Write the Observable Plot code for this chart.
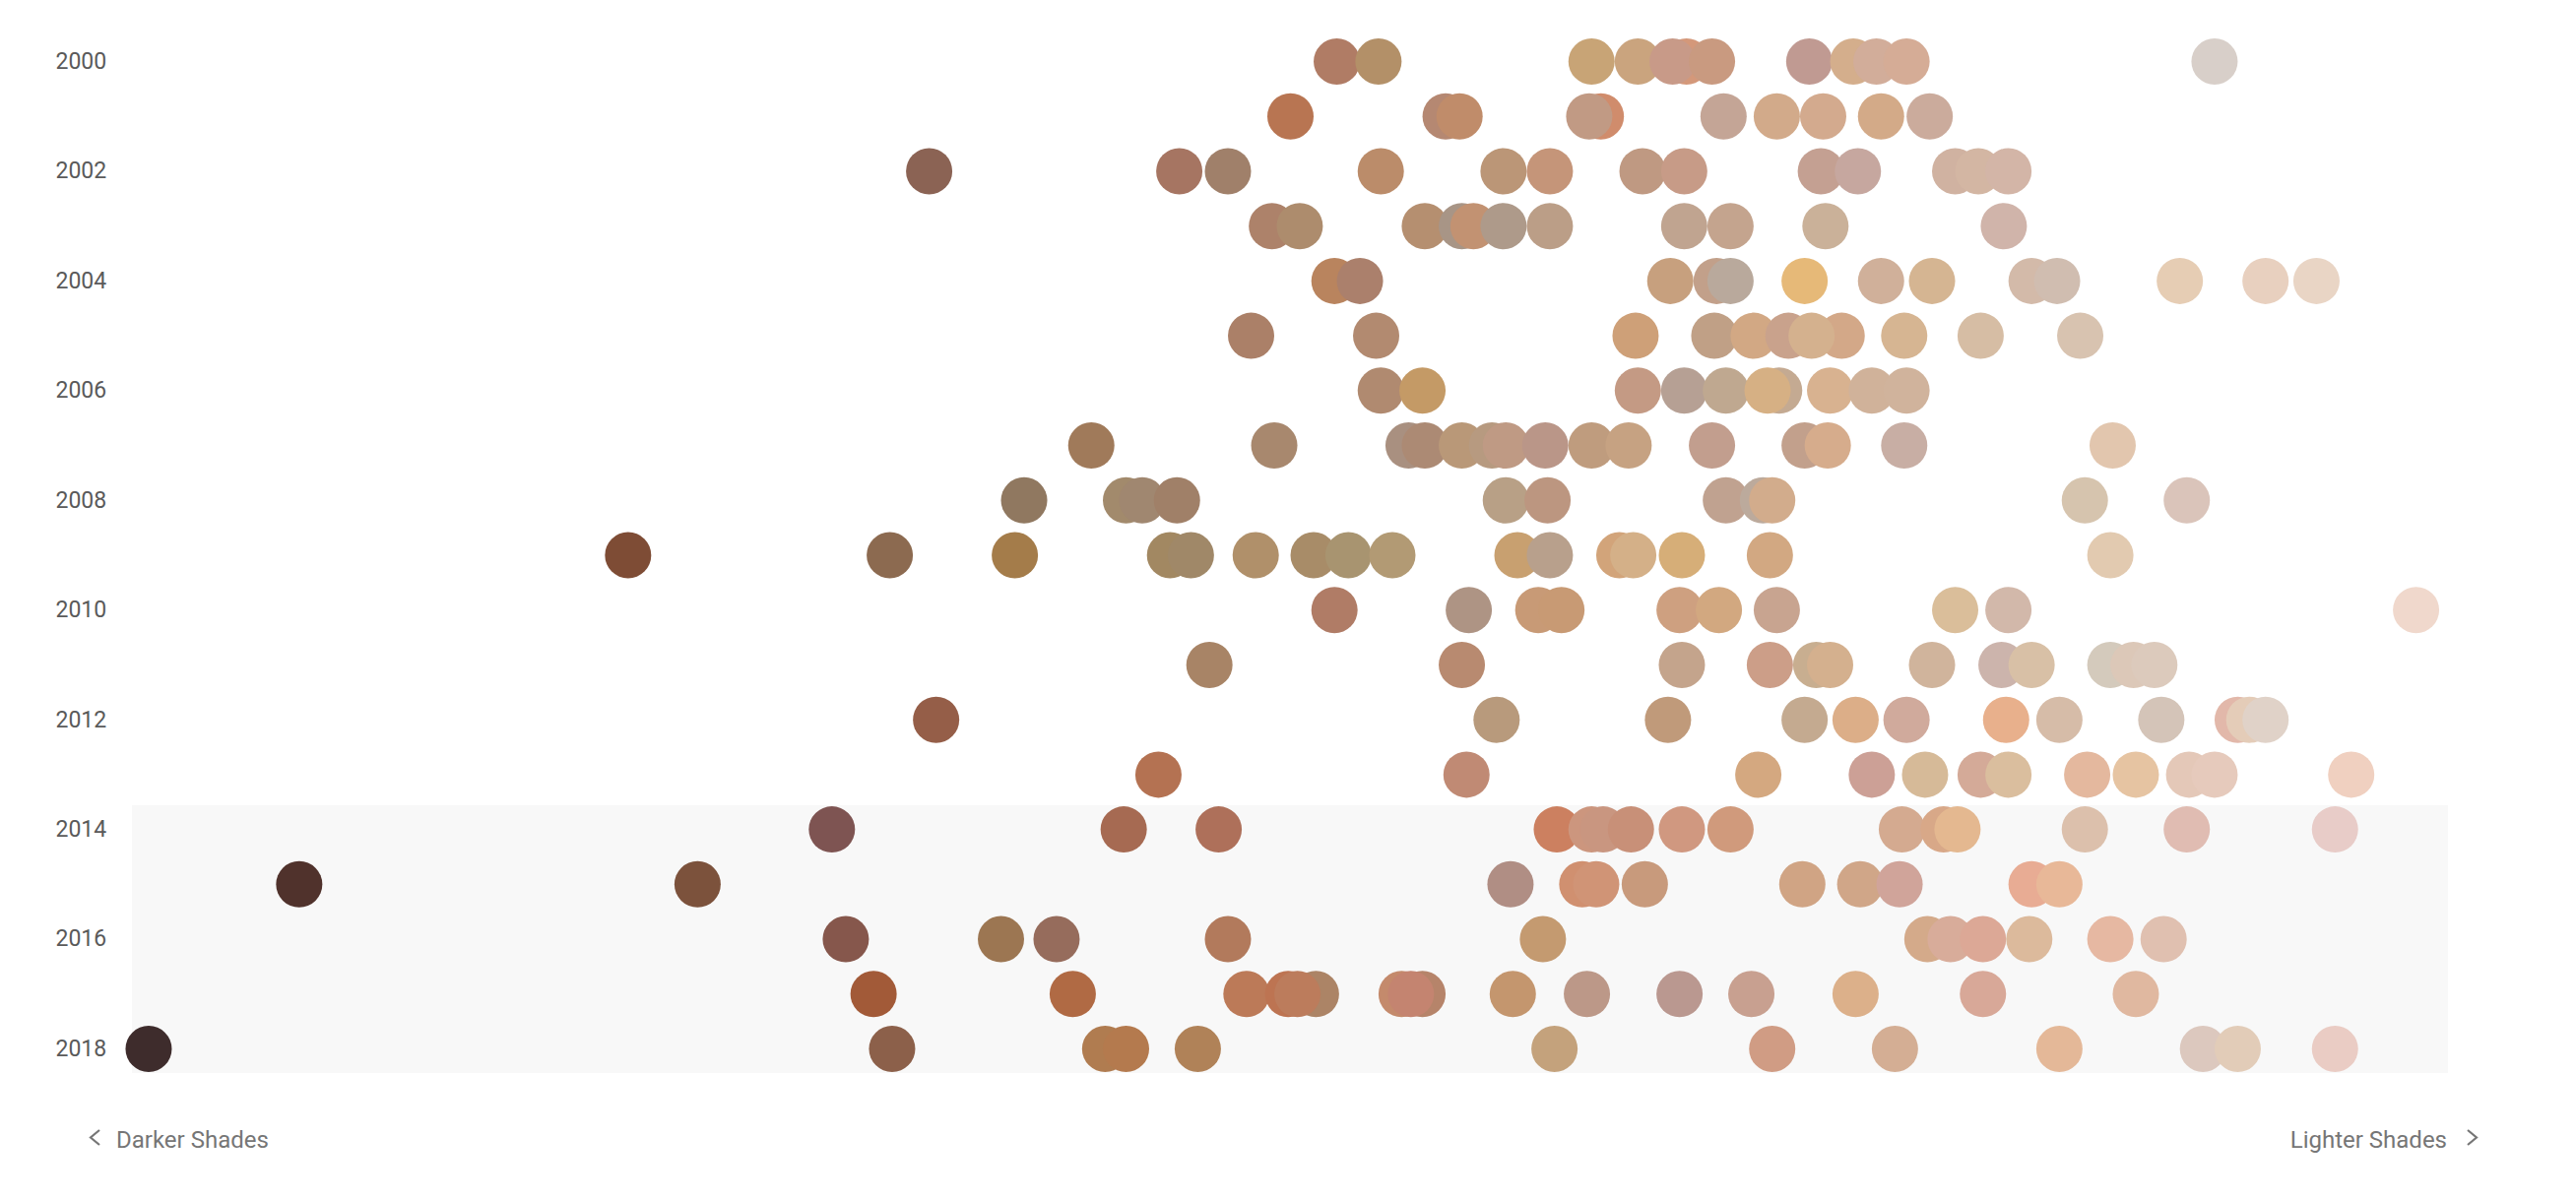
<!DOCTYPE html>
<html>
<head>
<meta charset="utf-8">
<script src="https://cdn.jsdelivr.net/npm/d3@7"></script>
<script src="https://cdn.jsdelivr.net/npm/@observablehq/plot@0.6"></script>
<style>
  html, body { margin: 0; padding: 0; background: #fff; }
  #wrap { position: relative; width: 2616px; height: 1218px; }
  #wrap svg { display: block; }
  #labels { position: absolute; left: 0; top: 0; }
</style>
</head>
<body>
<div id="wrap"></div>
<script>
// ---- data ----
const years = [2000,2001,2002,2003,2004,2005,2006,2007,2008,2009,2010,2011,2012,2013,2014,2015,2016,2017,2018];
const yearTicks = [2000,2002,2004,2006,2008,2010,2012,2014,2016,2018];
const highlightYears = [2014, 2018];
const edgeLabels = ["Darker Shades", "Lighter Shades"];

// shade position (0 = darkest, 100 = lightest), one list per year
const shades = [
  [52.0,53.8,63.0,65.0,67.1,66.5,68.2,72.4,74.3,75.3,76.6,89.9],
  [50.0,56.7,57.3,63.4,62.9,68.7,71.0,73.0,75.5,77.6],
  [34.4,45.2,47.3,53.9,59.2,61.2,65.2,67.0,72.9,74.5,78.7,79.7,81.0],
  [49.2,50.4,55.8,57.4,57.9,59.2,61.2,67.0,69.0,73.1,80.8],
  [51.9,53.0,66.4,68.4,69.0,72.2,75.5,77.7,82.0,83.1,88.4,92.1,94.3],
  [48.3,53.7,64.9,68.3,70.0,71.5,73.8,72.5,76.5,79.8,84.1],
  [53.9,55.7,65.0,67.0,68.8,71.1,70.6,73.3,75.1,76.6],
  [41.4,49.3,55.1,55.8,57.4,58.7,59.3,61.0,63.0,64.6,68.2,72.2,73.2,76.5,85.5],
  [38.5,42.9,43.6,45.1,59.3,61.1,68.8,70.4,70.8,84.3,88.7],
  [21.4,32.7,38.1,44.8,45.7,48.5,51.0,52.5,54.4,59.8,61.2,64.2,64.8,66.9,70.7,85.4],
  [51.9,57.7,60.7,61.7,66.8,68.5,71.0,78.7,81.0,98.6],
  [46.5,57.4,66.9,70.7,72.7,73.3,77.7,80.7,82.0,85.4,86.4,87.3],
  [34.7,58.9,66.3,72.2,74.4,76.6,80.9,83.2,87.6,90.9,91.4,92.1],
  [44.3,57.6,70.2,75.1,77.4,79.8,81.0,84.4,86.5,88.8,89.9,95.8],
  [30.2,42.8,46.9,61.5,63.0,63.5,64.7,66.9,69.0,76.4,78.2,78.8,84.3,88.7,95.1],
  [7.2,24.4,59.5,62.6,63.2,65.3,72.1,74.6,76.3,82.0,83.2],
  [30.8,37.5,39.9,47.3,60.9,77.5,78.5,79.9,81.9,85.4,87.7],
  [32.0,40.6,48.1,51.1,49.9,50.3,55.7,54.8,55.2,59.6,62.8,66.8,69.9,74.4,79.9,86.5],
  [0.7,32.8,42.0,42.9,46.0,61.4,70.8,76.1,83.2,89.4,90.9,95.1]
];

// swatch colour of each shade, same order
const colors = [
  ["#b07c65","#b39068","#c8a476","#caa47e","#d4987a","#c89a88","#c99a80","#c09a92","#d4ae8c","#d2ad9a","#d5ac96","#d8cfc9"],
  ["#b87552","#b58872","#c08c6a","#d08c6c","#c19a84","#c4a596","#d2aa8a","#d3aa8e","#d3aa88","#cbab9c"],
  ["#8b6354","#a67562","#a0806a","#bb8c6a","#bb9677","#c59579","#bf9982","#c79b87","#c4a092","#c6a79f","#d0b2a1","#d3b6a3","#d3b5a7"],
  ["#ad826a","#ad8c6d","#b58f70","#a89586","#c29272","#ae9a8a","#bb9e87","#c0a490","#c4a48e","#cab199","#d0b4aa"],
  ["#b9845e","#ab806c","#c7a07e","#c2a08a","#b9a99c","#e6b978","#d0b09a","#d5b592","#d3baa9","#d0bdb0","#e6cdb4","#e8d0bf","#e9d5c5"],
  ["#ab8068","#b28a70","#cea078","#c0a086","#d2a884","#c9a28c","#d3a888","#d4b18e","#d6b592","#d6bda4","#d8c3b0"],
  ["#b08a70","#c49a66","#c49a84","#b6a094","#bfa890","#c4aa92","#d6b084","#d8b290","#d0b29a","#d0b39c"],
  ["#a07a5a","#a8886e","#a99080","#ac8a74","#b99878","#b79a80","#bf9a84","#ba9688","#bf9c7e","#c6a282","#c29e8e","#c2a08c","#d6ac8c","#c8aea4","#e2c6ae"],
  ["#907860","#a28a6c","#a08770","#a08068","#b8a086","#bc9680","#c0a290","#bcaa9c","#d2ac8c","#d6c4ae","#dac4ba"],
  ["#7e4c35","#8c6a50","#a47c4a","#a28862","#a08868","#b0906a","#a88c68","#a89470","#b29a74","#c8a070","#b8a08c","#d2a47a","#d4b088","#d6ae78","#d2a882","#e2cab0"],
  ["#b07c66","#ae9484","#c89a76","#c89a74","#cea080","#d2a880","#c8a490","#dabe9a","#d2b8aa","#f0d8cc"],
  ["#a88466","#b88a70","#c4a48c","#cc9e88","#c8ae90","#d4b08e","#d0b49c","#ccb4ac","#d8c0a6","#d4cabc","#dcc8b8","#dccabc"],
  ["#955e48","#b89a7c","#c09a7a","#c4aa90","#dcae88","#d0aa9c","#e8b08c","#d6bca8","#d4c4b8","#e2b8aa","#e4ccb8","#e0d2c8"],
  ["#b47252","#c08a74","#d4a880","#cca096","#d6ba98","#d4aa98","#dabe9e","#e4b89e","#e6c4a2","#e4c8b8","#e6cabc","#f0d0c0"],
  ["#7e5452","#a66a52","#ae705a","#cc8060","#cc967e","#c99680","#c89078","#d09880","#d09a7c","#d4aa90","#d8a888","#e4b890","#dcc0ac","#e0bcb2","#e8ccc8"],
  ["#50322c","#7c523c","#b08e84","#d09070","#d09476","#c89a7c","#d0a484","#d0a688","#d0a49a","#e8ac94","#e8b898"],
  ["#86574c","#9c7652","#966c5c","#b27a5c","#c49a70","#d4aa8a","#d8ac9a","#dca896","#dcba9c","#e6b8a2","#e0c0b0"],
  ["#a25a38","#b06a44","#bc7a58","#ac8466","#bd7452","#bc7c5c","#b6846a","#c48a6c","#c48470","#c4966e","#bc9888","#ba9890","#c8a090","#dcb08a","#d8a898","#e0b8a0"],
  ["#3e2c2c","#8c604a","#b07c50","#b47a4e","#b08258","#c4a27c","#d09c84","#d4ae94","#e4b898","#dcc8be","#e2ccb8","#eaccc4"]
];

// ---- build table ----
const dots = years.flatMap((yr, i) =>
  shades[i].map((s, j) => ({year: yr, shade: s, color: colors[i][j]}))
);

const W = 2616, H = 1218;

const chart = Plot.plot({
  width: W,
  height: H,
  marginLeft: 134,
  marginRight: 130,
  marginTop: 62,
  marginBottom: 153,
  style: {fontFamily: "Roboto, 'Liberation Sans', sans-serif", background: "#ffffff", overflow: "visible"},
  x: {domain: [0, 100], axis: null},
  y: {domain: [years[0], years[years.length - 1]], reverse: true, axis: null},
  color: {type: "identity"},
  marks: [
    Plot.rect([highlightYears], {
      x1: 0, x2: 100,
      y1: d => d[0], y2: d => d[1],
      fill: "#f8f8f8",
      insetTop: -24, insetBottom: -25
    }),
    Plot.axisY({
      ticks: yearTicks,
      tickFormat: "d",
      tickSize: 0,
      tickPadding: 0,
      textAnchor: "start",
      dx: -78,
      fontSize: 23,
      fill: "#5a5a5a",
      color: "#5a5a5a",
      label: null
    }),
    Plot.dot(dots, {
      x: "shade",
      y: "year",
      r: 23.5,
      fill: "color",
      stroke: "none"
    })
  ]
});

const wrap = document.getElementById("wrap");
wrap.appendChild(chart);

// edge labels with chevrons
const svg = d3.select(wrap).append("svg")
  .attr("id", "labels")
  .attr("width", W).attr("height", H)
  .style("font-family", "Roboto, 'Liberation Sans', sans-serif");

svg.append("text")
  .attr("x", 118).attr("y", 1166)
  .attr("font-size", 24).attr("fill", "#767676")
  .text(edgeLabels[0]);
svg.append("polyline")
  .attr("points", "101,1148 92,1155.5 101,1163")
  .attr("fill", "none").attr("stroke", "#767676").attr("stroke-width", 2.2);

svg.append("text")
  .attr("x", 2485).attr("y", 1166)
  .attr("text-anchor", "end")
  .attr("font-size", 24).attr("fill", "#767676")
  .text(edgeLabels[1]);
svg.append("polyline")
  .attr("points", "2506,1148 2515,1155.5 2506,1163")
  .attr("fill", "none").attr("stroke", "#767676").attr("stroke-width", 2.2);
</script>
</body>
</html>
